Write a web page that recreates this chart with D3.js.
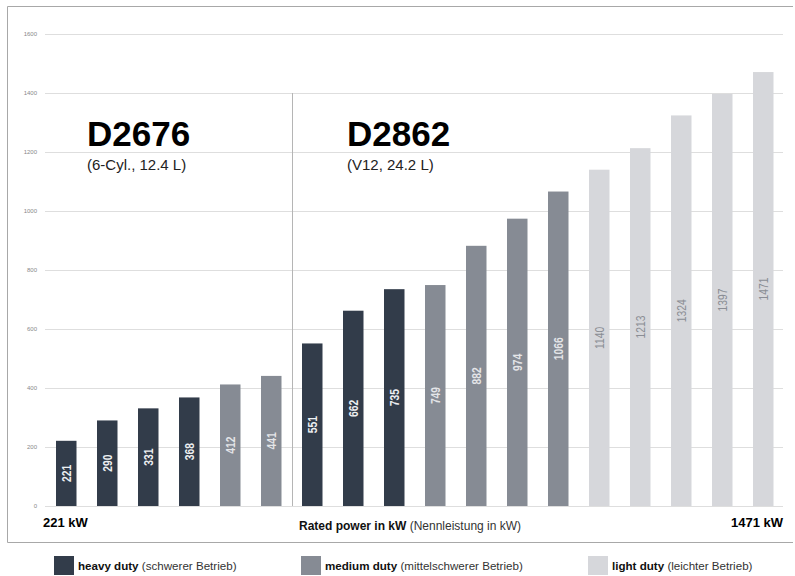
<!DOCTYPE html>
<html>
<head>
<meta charset="utf-8">
<script src="https://cdn.jsdelivr.net/npm/d3@7"></script>
<style>
  body { margin: 0; background: #fff; }
  svg { display: block; font-family: "Liberation Sans", Arial, Helvetica, sans-serif; }
</style>
</head>
<body>
<div id="chart"></div>
<script>
// rated power per variant, left to right
const powers = [221, 290, 331, 368, 412, 441, 551, 662, 735, 749, 882, 974, 1066, 1140, 1213, 1324, 1397, 1471];
const duties = ['heavy', 'heavy', 'heavy', 'heavy', 'medium', 'medium',
                'heavy', 'heavy', 'heavy', 'medium', 'medium', 'medium', 'medium',
                'light', 'light', 'light', 'light', 'light'];
const engines = ['D2676', 'D2676', 'D2676', 'D2676', 'D2676', 'D2676',
                 'D2862', 'D2862', 'D2862', 'D2862', 'D2862', 'D2862', 'D2862', 'D2862', 'D2862', 'D2862', 'D2862', 'D2862'];
const engineNames = ['D2676', 'D2862'];
const engineSpecs = ['(6-Cyl., 12.4 L)', '(V12, 24.2 L)'];
const yTicks = [0, 200, 400, 600, 800, 1000, 1200, 1400, 1600];
const dutyKeys = ['heavy', 'medium', 'light'];
const dutyLabels = ['heavy duty', 'medium duty', 'light duty'];
const dutyLabelsDe = ['(schwerer Betrieb)', '(mittelschwerer Betrieb)', '(leichter Betrieb)'];

const W = 795, H = 576;
const fill = { heavy: '#323c4a', medium: '#868b94', light: '#d6d7db' };
const labelFill = { heavy: '#eef0f2', medium: '#e4e5e8', light: '#8a8d94' };

const svg = d3.select('#chart').append('svg')
    .attr('width', W).attr('height', H);

// frame
svg.append('path')
    .attr('d', `M${W - 2},6.5H7.5V542.5H${W - 2}`)
    .attr('fill', 'none')
    .attr('stroke', '#a8a8a8')
    .attr('stroke-width', 1);

const x = d3.scaleBand()
    .domain(d3.range(powers.length))
    .range([35.5, 794])
    .paddingInner(0.5)
    .paddingOuter(0.5);

const y = d3.scaleLinear().domain([0, 1600]).range([506, 34]);

// grid + tick labels
const gx0 = 45, gx1 = 783;
const yAxis = svg.append('g')
    .attr('transform', `translate(${gx0},0)`)
    .call(d3.axisLeft(y).tickValues(yTicks).tickSize(-(gx1 - gx0)).tickPadding(8).tickFormat(d3.format('d')));
yAxis.select('.domain').remove();
yAxis.selectAll('.tick line').attr('stroke', '#dedede');
yAxis.selectAll('.tick text')
    .attr('fill', '#888')
    .style('font-size', '6px');

// divider between the two engines
const firstV12 = engines.indexOf('D2862');
const divX = Math.round((x(firstV12 - 1) + x.bandwidth() + x(firstV12)) / 2) + 0.5;
svg.append('line')
    .attr('x1', divX).attr('x2', divX)
    .attr('y1', y(1400)).attr('y2', y(0))
    .attr('stroke', '#b5b5b5');

// bars
const data = powers.map((v, i) => ({ i, v, duty: duties[i] }));
svg.append('g').selectAll('rect')
  .data(data)
  .join('rect')
    .attr('x', d => x(d.i))
    .attr('y', d => y(d.v))
    .attr('width', x.bandwidth())
    .attr('height', d => y(0) - y(d.v))
    .attr('fill', d => fill[d.duty]);

// value labels, rotated, squeezed a bit, centered in bar
svg.append('g').selectAll('text')
  .data(data)
  .join('text')
    .attr('transform', d => `translate(${x(d.i) + x.bandwidth() / 2 + 4.3},${(y(d.v) + y(0)) / 2}) rotate(-90) scale(0.86,1)`)
    .attr('text-anchor', 'middle')
    .attr('fill', d => labelFill[d.duty])
    .style('font-size', '12px')
    .style('font-weight', d => d.duty === 'light' ? 'normal' : 'bold')
    .text(d => d.v);

// engine titles
const titleX = [87, 347];
engineNames.forEach((name, k) => {
  svg.append('text')
      .attr('x', titleX[k]).attr('y', 146)
      .attr('fill', '#000')
      .style('font-size', '35px')
      .style('font-weight', 'bold')
      .text(name);
  svg.append('text')
      .attr('x', titleX[k]).attr('y', 170)
      .attr('fill', '#222')
      .style('font-size', '15px')
      .text(engineSpecs[k]);
});

// axis end labels
svg.append('text')
    .attr('x', 43).attr('y', 527)
    .style('font-size', '13px').style('font-weight', 'bold')
    .text(`${d3.min(powers)} kW`);
svg.append('text')
    .attr('x', 783).attr('y', 527)
    .attr('text-anchor', 'end')
    .style('font-size', '13px').style('font-weight', 'bold')
    .text(`${d3.max(powers)} kW`);

const axisTitle = svg.append('text')
    .attr('x', 299).attr('y', 530)
    .style('font-size', '12px').attr('fill', '#111');
axisTitle.append('tspan').style('font-weight', 'bold').text('Rated power in kW');
axisTitle.append('tspan').attr('fill', '#333').text(' (Nennleistung in kW)');

// legend
const legendX = [54, 301, 588];
dutyKeys.forEach((k, i) => {
  const g = svg.append('g').attr('transform', `translate(${legendX[i]},556)`);
  g.append('rect').attr('width', 20).attr('height', 19).attr('fill', fill[k]);
  const t = g.append('text').attr('x', 24).attr('y', 13.5)
      .style('font-size', '11.6px').attr('fill', '#111');
  t.append('tspan').style('font-weight', 'bold').text(dutyLabels[i]);
  t.append('tspan').attr('fill', '#333').text(' ' + dutyLabelsDe[i]);
});
</script>
</body>
</html>
